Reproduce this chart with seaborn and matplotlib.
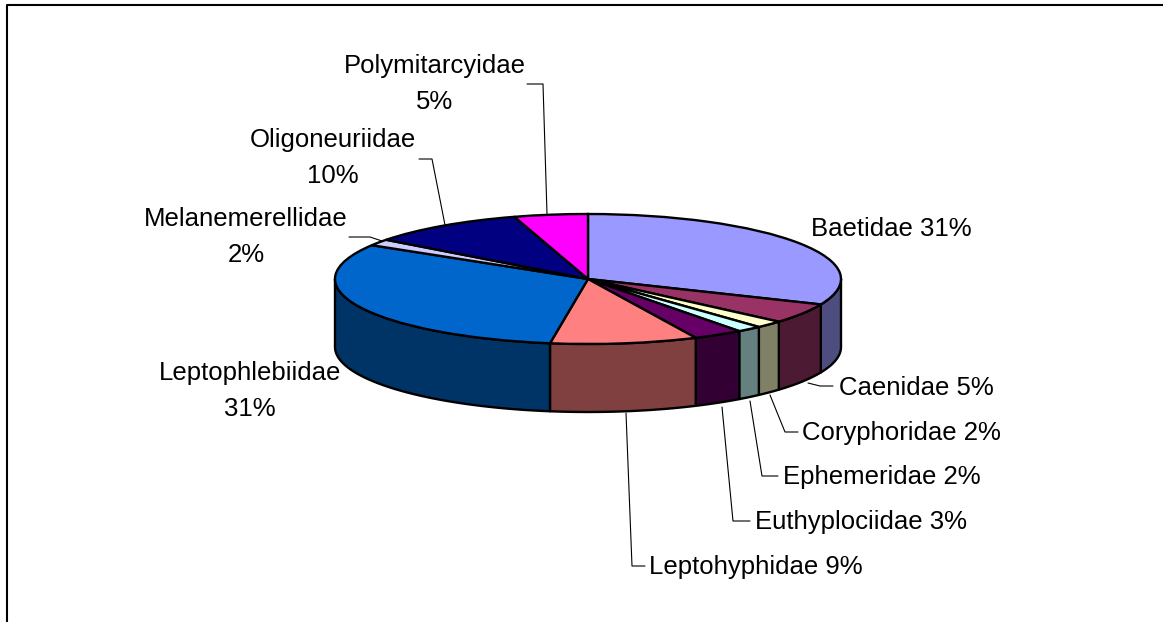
import numpy as np
import matplotlib
matplotlib.use('Agg')
import matplotlib.pyplot as plt
import seaborn as sns

families = ['Baetidae', 'Caenidae', 'Coryphoridae', 'Ephemeridae', 'Euthyplociidae',
            'Leptohyphidae', 'Leptophlebiidae', 'Melanemerellidae', 'Oligoneuriidae', 'Polymitarcyidae']
# unrounded shares estimated from the slice edges, labels show them rounded
shares = [31.4, 5.0, 1.8, 1.6, 3.2, 9.4, 31.3, 1.6, 10.0, 4.7]
top_colors = ['#9999FF', '#993366', '#FFFFCC', '#CCFFFF', '#660066',
              '#FF8080', '#0066CC', '#CCCCFF', '#000080', '#FF00FF']
label_texts = ['Baetidae 31%', 'Caenidae 5%', 'Coryphoridae 2%', 'Ephemeridae 2%', 'Euthyplociidae 3%',
               'Leptohyphidae 9%', 'Leptophlebiidae\n31%', 'Melanemerellidae\n2%', 'Oligoneuriidae\n10%',
               'Polymitarcyidae\n5%']

W, H = 1163, 622
CX, CY, RX, RY, DEPTH = 588, 279, 253, 65, 68


def px(x, y):
    # picture pixels to pie units, radius 1 is RX wide and RY tall
    return (x - CX) / RX, (CY - y) / RY


sns.set_theme(style='white')
plt.rcParams['font.family'] = ['Liberation Sans', 'DejaVu Sans']

fig = plt.figure(figsize=(W / 100, H / 100), dpi=100)
ax = fig.add_axes([0, 0, 1, 1])

# side wall first, only the front half of the cylinder shows
edges = np.concatenate([[0], np.cumsum(shares)]) / np.sum(shares) * 360
depth = DEPTH / RY
for start, end, color in zip(edges[:-1], edges[1:], top_colors):
    a, b = max(start, 90), min(end, 270)
    if a >= b:
        continue
    t = np.radians(np.linspace(a, b, 80))
    xs, ys = np.sin(t), np.cos(t)
    dark = tuple(c * 0.5 for c in matplotlib.colors.to_rgb(color))
    ax.fill(np.r_[xs, xs[::-1]], np.r_[ys, ys[::-1] - depth], facecolor=dark,
            edgecolor='black', linewidth=1.7, joinstyle='round')

wedges, _ = ax.pie(shares, colors=top_colors, startangle=90, counterclock=False, radius=1,
                   wedgeprops={'edgecolor': 'black', 'linewidth': 1.7})
ax.set_aspect('auto')
ax.set_xlim(px(0, 0)[0], px(W, 0)[0])
ax.set_ylim(px(0, H)[1], px(0, 0)[1])
ax.axis('off')

# label anchors: x, y, horizontal alignment
label_pos = [(891, 229, 'center'), (839, 388, 'left'), (802, 433, 'left'), (783, 477, 'left'),
             (755, 522, 'left'), (649, 567, 'left'), (250, 391, 'center'), (246, 237, 'center'),
             (333, 158, 'center'), (435, 84, 'center')]
for text, (x, y, ha) in zip(label_texts, label_pos):
    ux, uy = px(x, y)
    ax.text(ux, uy, text, ha=ha, va='center', fontsize=18.5, color='black', linespacing=1.6)

leaders = [[(527, 84), (543, 84), (547, 214)],
           [(419, 159), (432, 159), (445, 225)],
           [(349, 237), (370, 237), (382, 241)],
           [(833, 386), (820, 386), (808, 383)],
           [(798, 432), (785, 432), (770, 395)],
           [(778, 476), (762, 476), (750, 401)],
           [(750, 521), (733, 521), (722, 407)],
           [(645, 566), (632, 566), (626, 413)]]
for line in leaders:
    pts = np.array([px(x, y) for x, y in line])
    ax.plot(pts[:, 0], pts[:, 1], color='black', linewidth=0.8)

# chart frame, bottom and right run off the picture
frame = np.array([px(6.5, H), px(6.5, 4.5), px(W, 4.5)])
ax.plot(frame[:, 0], frame[:, 1], color='black', linewidth=1.5, clip_on=False)

fig.savefig('out.png', dpi=100, facecolor='white')
plt.close(fig)
